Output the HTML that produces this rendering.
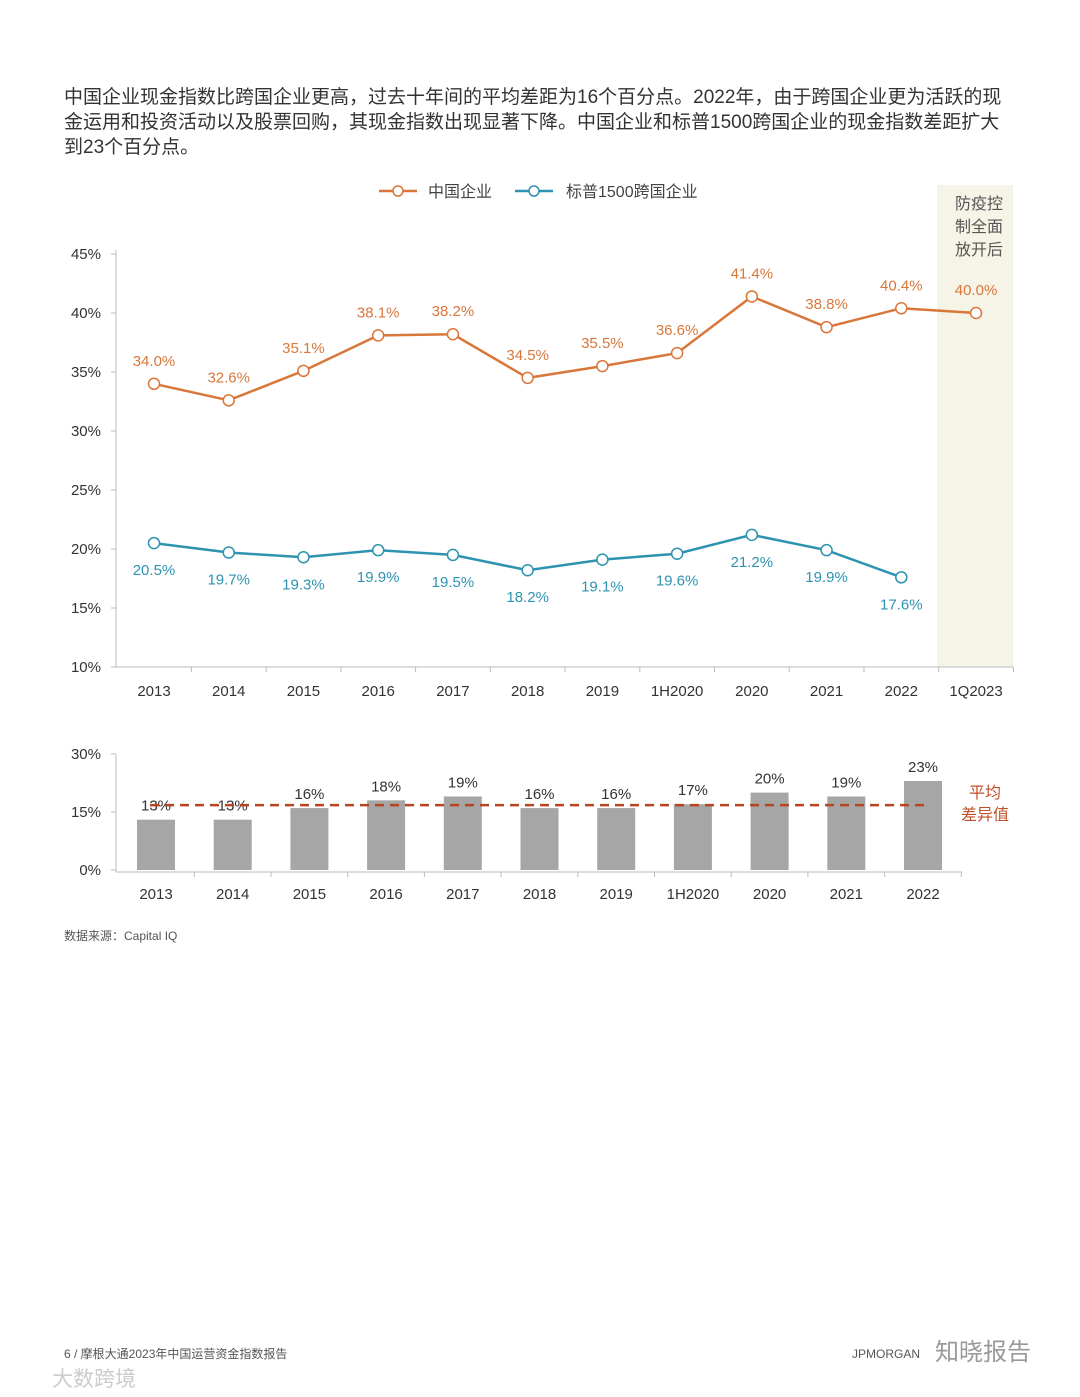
<!DOCTYPE html>
<html><head><meta charset="utf-8"><style>
body{margin:0;background:#fff;width:1080px;height:1397px;overflow:hidden;font-family:"Liberation Sans","Noto Sans CJK SC",sans-serif}
.p{position:absolute;left:64px;top:85px;width:946px;font-size:19px;line-height:25px;color:#333}
</style></head><body>
<div class="p">中国企业现金指数比跨国企业更高，过去十年间的平均差距为16个百分点。2022年，由于跨国企业更为活跃的现金运用和投资活动以及股票回购，其现金指数出现显著下降。中国企业和标普1500跨国企业的现金指数差距扩大到23个百分点。</div>
<svg id="c" width="1080" height="1397" style="position:absolute;left:0;top:0" font-family="Liberation Sans, Noto Sans CJK SC, sans-serif"></svg>
<script>
const cats=["2013","2014","2015","2016","2017","2018","2019","1H2020","2020","2021","2022","1Q2023"];
const cn=[34.0,32.6,35.1,38.1,38.2,34.5,35.5,36.6,41.4,38.8,40.4,40.0];
const sp=[20.5,19.7,19.3,19.9,19.5,18.2,19.1,19.6,21.2,19.9,17.6,null];
const yTicks=[10,15,20,25,30,35,40,45];
const gapCats=["2013","2014","2015","2016","2017","2018","2019","1H2020","2020","2021","2022"];
const gap=[13,13,16,18,19,16,16,17,20,19,23];
const gapAvg=16;
const gTicks=[0,15,30];
const OR="#d9773a",TE="#2e93b0";
const s=document.getElementById('c');const NS="http://www.w3.org/2000/svg";
function el(t,a,n,txt){const e=document.createElementNS(NS,t);for(const k in a)e.setAttribute(k,a[k]);

if(txt!=null)e.textContent=txt;s.appendChild(e);return e;}
const X=i=>154+i*74.73, Y=v=>667-(v-10)*11.8;
el('rect',{x:937,y:185,width:76,height:482,fill:'#f6f4e6'},'post-reopening-band');
["防疫控","制全面","放开后"].forEach((t,i)=>el('text',{x:979,y:209+i*23,'font-size':16,fill:'#555','text-anchor':'middle'},'band-label',t));
el('line',{x1:116,y1:250,x2:116,y2:667,stroke:'#bbb'},'y-axis');
el('line',{x1:116,y1:667,x2:1013,y2:667,stroke:'#bbb'},'x-axis');
yTicks.forEach(v=>{el('line',{x1:111,y1:Y(v),x2:116,y2:Y(v),stroke:'#bbb'},'y-tick');
el('text',{x:101,y:Y(v)+5,'font-size':15,fill:'#333','text-anchor':'end'},'y-tick-label',v+'%');});
cats.forEach((c,i)=>{el('line',{x1:X(i)+37.4,y1:667,x2:X(i)+37.4,y2:672,stroke:'#bbb'},'x-tick');
el('text',{x:X(i),y:696,'font-size':15,fill:'#333','text-anchor':'middle'},'x-tick-label',c);});
function series(d,col,name,above){let pts=[];d.forEach((v,i)=>{if(v!=null)pts.push(X(i)+','+Y(v));});
el('polyline',{points:pts.join(' '),fill:'none',stroke:col,'stroke-width':2.5},name+'-line');
d.forEach((v,i)=>{if(v==null)return;el('circle',{cx:X(i),cy:Y(v),r:5.5,fill:'#fff',stroke:col,'stroke-width':1.5},name+'-point');
el('text',{x:X(i),y:above?Y(v)-18:Y(v)+32,'font-size':15,fill:col,'text-anchor':'middle'},name+'-value-label',v.toFixed(1)+'%');});}
series(cn,OR,'china',true);series(sp,TE,'sp1500',false);
el('line',{x1:379,y1:191,x2:417,y2:191,stroke:OR,'stroke-width':2.5},'legend-china-line');
el('circle',{cx:398,cy:191,r:5,fill:'#fff',stroke:OR,'stroke-width':1.5},'legend-china-marker');
el('text',{x:428,y:197,'font-size':16,fill:'#444'},'legend-china-label','中国企业');
el('line',{x1:515,y1:191,x2:553,y2:191,stroke:TE,'stroke-width':2.5},'legend-sp-line');
el('circle',{cx:534,cy:191,r:5,fill:'#fff',stroke:TE,'stroke-width':1.5},'legend-sp-marker');
el('text',{x:566,y:197,'font-size':16,fill:'#444'},'legend-sp-label','标普1500跨国企业');
const BX=i=>156+i*76.7, BY=v=>870-v*3.87;
el('line',{x1:116,y1:754,x2:116,y2:872,stroke:'#bbb'},'gap-y-axis');
el('line',{x1:116,y1:872,x2:962,y2:872,stroke:'#bbb'},'gap-x-axis');
gTicks.forEach(v=>{el('line',{x1:111,y1:BY(v),x2:116,y2:BY(v),stroke:'#bbb'},'gap-y-tick');
el('text',{x:101,y:BY(v)+5,'font-size':15,fill:'#333','text-anchor':'end'},'gap-y-tick-label',v+'%');});
gapCats.forEach((c,i)=>{el('rect',{x:BX(i)-19,y:BY(gap[i]),width:38,height:870-BY(gap[i]),fill:'#a6a6a6'},'gap-bar');
el('text',{x:BX(i),y:BY(gap[i])-9,'font-size':15,fill:'#333','text-anchor':'middle'},'gap-value-label',gap[i]+'%');
el('line',{x1:BX(i)+38.3,y1:872,x2:BX(i)+38.3,y2:877,stroke:'#bbb'},'gap-x-tick');
el('text',{x:BX(i),y:899,'font-size':15,fill:'#333','text-anchor':'middle'},'gap-x-tick-label',c);});
el('line',{x1:150,y1:BY(gapAvg)-3,x2:925,y2:BY(gapAvg)-3,stroke:'#b5461f','stroke-width':2.5,'stroke-dasharray':'9,6'},'average-gap-line');
el('text',{x:985,y:798,'font-size':16,fill:'#c0502a','text-anchor':'middle'},'average-label','平均');
el('text',{x:985,y:820,'font-size':16,fill:'#c0502a','text-anchor':'middle'},'average-label','差异值');
el('text',{x:64,y:940,'font-size':12,fill:'#555'},'source-note','数据来源：Capital IQ');
el('text',{x:64,y:1358,'font-size':12,fill:'#555'},'footer-page','6    /    摩根大通2023年中国运营资金指数报告');
el('text',{x:852,y:1358,'font-size':12,fill:'#555'},'footer-brand','JPMORGAN');
el('text',{x:935,y:1360,'font-size':24,fill:'#999'},'watermark','知晓报告');
el('text',{x:52,y:1386,'font-size':21,fill:'#ccc'},'watermark-2','大数跨境');
</script></body></html>
